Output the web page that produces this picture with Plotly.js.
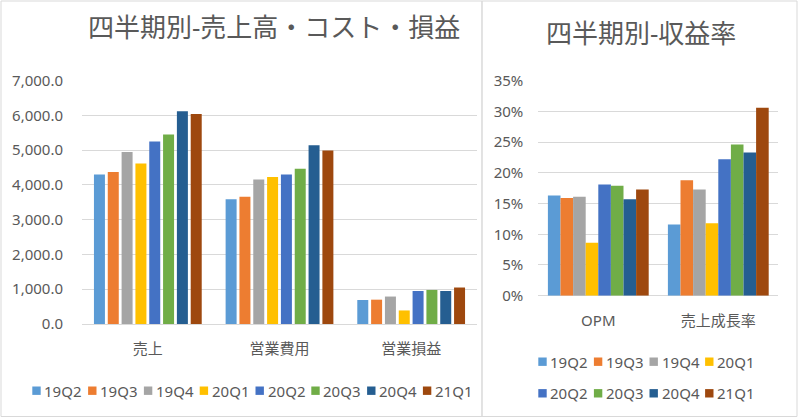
<!DOCTYPE html>
<html><head><meta charset="utf-8">
<script src="https://cdn.plot.ly/plotly-3.0.1.min.js"></script>
<style>html,body{margin:0;padding:0;background:#fff}#chart{width:800px;height:418px}</style>
</head><body><div id="chart"></div>
<script>
// ---- data ----
const quarters = ['19Q2','19Q3','19Q4','20Q1','20Q2','20Q3','20Q4','21Q1'];
const quarterColors = ['#5B9BD5','#ED7D31','#A5A5A5','#FFC000','#4472C4','#70AD47','#255E91','#9E480E'];
const leftCategories = ['売上','営業費用','営業損益'];
const sales    = [4300,4370,4950,4620,5250,5450,6120,6040];
const opex     = [3590,3660,4160,4230,4300,4470,5140,4990];
const opIncome = [690,700,790,390,950,980,950,1050];
const rightCategories = ['OPM','売上成長率'];
const opm         = [16.3,15.9,16.1,8.6,18.1,17.9,15.7,17.3];
const salesGrowth = [11.6,18.8,17.3,11.8,22.2,24.6,23.3,30.6];
const leftTitle = '四半期別-売上高・コスト・損益';
const rightTitle = '四半期別-収益率';

// ---- layout helpers ----
const W = 800, H = 418;
const px = x => x / W;
const py = y => 1 - y / H;
const grey = '#595959';
const FONT = '"Noto Sans", "Noto Sans CJK JP", sans-serif';

const traces = [];
quarters.forEach((q, i) => {
  traces.push({
    type: 'bar', name: q, x: leftCategories, y: [sales[i], opex[i], opIncome[i]],
    marker: {color: quarterColors[i]}, width: 0.0835, xaxis: 'x', yaxis: 'y',
    showlegend: false, hoverinfo: 'none'
  });
});
quarters.forEach((q, i) => {
  traces.push({
    type: 'bar', name: q, x: rightCategories, y: [opm[i], salesGrowth[i]],
    marker: {color: quarterColors[i]}, xaxis: 'x2', yaxis: 'y2',
    showlegend: false, hoverinfo: 'none'
  });
});

const shapes = [
  {type:'rect', xref:'paper', yref:'paper', x0:px(1), x1:px(482), y0:py(416.5), y1:py(1), line:{color:'#d9d9d9', width:1}},
  {type:'rect', xref:'paper', yref:'paper', x0:px(482), x1:px(797), y0:py(416.5), y1:py(1), line:{color:'#d9d9d9', width:1}}
];
const annotations = [
  {text: leftTitle, xref:'paper', yref:'paper', x:px(274), y:py(27), xanchor:'center', yanchor:'middle', showarrow:false, font:{family:FONT, size:26, color:grey}},
  {text: rightTitle, xref:'paper', yref:'paper', x:px(641), y:py(33), xanchor:'center', yanchor:'middle', showarrow:false, font:{family:FONT, size:26, color:grey}}
];
// legends (manual, to match compact Excel legend)
const legendFont = {family: FONT, size: 15, color: grey};
function addLegendItem(i, sqX, cy) {
  shapes.push({type:'rect', xref:'paper', yref:'paper', x0:px(sqX), x1:px(sqX+8.4), y0:py(cy+4.2), y1:py(cy-4.2),
    fillcolor: quarterColors[i], line:{width:0}});
  annotations.push({text: quarters[i], xref:'paper', yref:'paper', x:px(sqX+12), y:py(cy), xanchor:'left', yanchor:'middle',
    showarrow:false, font: legendFont, xshift: -2});
}
quarters.forEach((q, i) => addLegendItem(i, 32.3 + i * 55.8, 390.7));
quarters.forEach((q, i) => addLegendItem(i, 538.3 + (i % 4) * 55.6, i < 4 ? 361.7 : 393.3));

const axisFont = {family: FONT, size: 15, color: grey};
const layout = {
  width: W, height: H, margin: {l:0, r:0, t:0, b:0},
  paper_bgcolor: '#fff', plot_bgcolor: '#fff',
  barmode: 'group', bargap: 0.16, bargroupgap: 0,
  showlegend: false,
  font: {family: FONT, color: grey},
  xaxis: {domain:[px(82), px(477)], anchor:'y', showline:false, ticks:'', tickfont:axisFont, ticklabelstandoff: 14, showgrid:false},
  yaxis: {domain:[py(324), py(80.7)], anchor:'x', range:[0,7000], dtick:1000, tickformat:',.1f', tickfont:axisFont,
          gridcolor:'#d9d9d9', gridwidth:1, zeroline:true, zerolinecolor:'#d9d9d9', zerolinewidth:1, showline:false, ticks:'', ticklabelstandoff: 18},
  xaxis2: {domain:[px(538.3), px(778.3)], anchor:'y2', showline:false, ticks:'', tickfont:axisFont, ticklabelstandoff: 14, showgrid:false},
  yaxis2: {domain:[py(295.7), py(80.7)], anchor:'x2', range:[0,35], dtick:5, ticksuffix:'%', tickfont:axisFont,
          gridcolor:'#d9d9d9', gridwidth:1, zeroline:true, zerolinecolor:'#d9d9d9', zerolinewidth:1, showline:false, ticks:'', ticklabelstandoff: 14},
  shapes: shapes, annotations: annotations
};
Plotly.newPlot('chart', traces, layout, {staticPlot: true, displayModeBar: false});
</script>
</body></html>
